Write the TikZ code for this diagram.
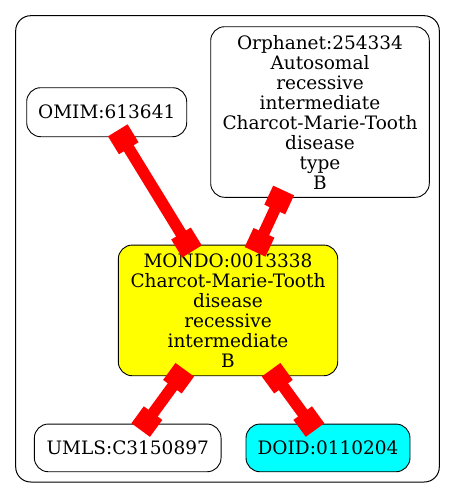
\documentclass[tikz,border=0pt]{standalone}
\usepackage{fontspec}
\setmainfont{DejaVu Serif}
\usetikzlibrary{arrows.meta, positioning}
\definecolor{mondoyellow}{RGB}{255,255,0}
\definecolor{doidcyan}{RGB}{0,255,255}
\definecolor{edgered}{RGB}{255,0,0}
\tikzset{
  term/.style={rectangle, draw=black, fill=white, rounded corners=14pt,
    align=center, inner sep=0pt, line width=0.9pt,
    font=\fontsize{18.5}{20}\selectfont},
  link/.style={line width=11.5pt, color=edgered,
    {Square[length=21pt, width=23pt]}-{Square[length=21pt, width=23pt]},
    shorten <=-8pt, shorten >=-8pt},
  frame/.style={draw=black, rounded corners=15pt, line width=1pt}
}
\begin{document}
\begin{tikzpicture}[x=1pt, y=-1pt]
  \useasboundingbox (0,0) rectangle (456,499);
  \draw[frame] (15.7,15.7) rectangle (439.3,482);

  \node[term, minimum width=160pt, minimum height=49pt] (omim) at (106.7,112.2) {OMIM:613641};
  \node[term, minimum width=218.6pt, minimum height=170.6pt] (orpha) at (320,112) {Orphanet:254334\\Autosomal\\recessive\\intermediate\\Charcot-Marie-Tooth\\disease\\type\\B};
  \node[term, fill=mondoyellow, minimum width=219.4pt, minimum height=130.7pt] (mondo) at (228,310.4) {MONDO:0013338\\Charcot-Marie-Tooth\\disease\\recessive\\intermediate\\B};
  \node[term, minimum width=186.7pt, minimum height=47.7pt] (umls) at (127.7,447.9) {UMLS:C3150897};
  \node[term, fill=doidcyan, minimum width=164pt, minimum height=47.7pt] (doid) at (328,447.9) {DOID:0110204};

  \draw[link] (omim) -- (mondo);
  \draw[link] (orpha) -- (mondo);
  \draw[link] (mondo) -- (umls);
  \draw[link] (mondo) -- (doid);
\end{tikzpicture}
\end{document}
